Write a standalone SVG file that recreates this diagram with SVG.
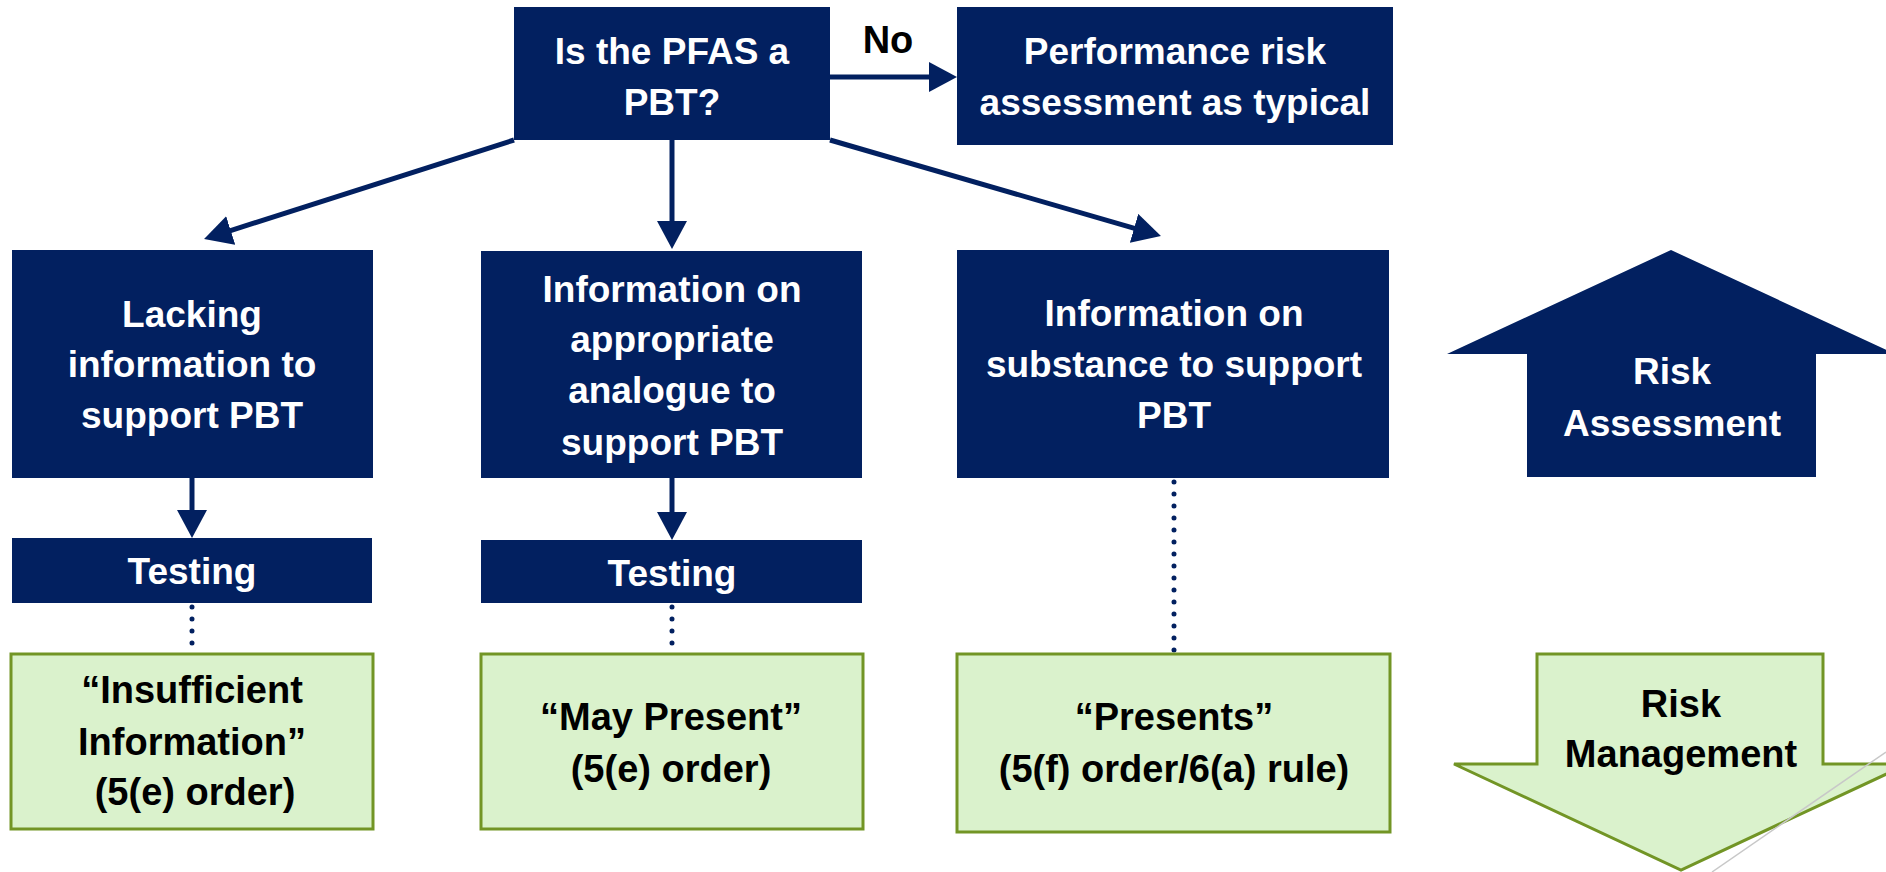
<svg xmlns="http://www.w3.org/2000/svg" width="1886" height="872" viewBox="0 0 1886 872">
  <defs>
    <style>
      .navy { fill: #022060; }
      .green { fill: #DAF2CC; stroke: #729525; stroke-width: 3; }
      .wt { font-family: "Liberation Sans", Arial, sans-serif; font-weight: bold; font-size: 37px; fill: #FFFFFF; text-anchor: middle; }
      .bt { font-family: "Liberation Sans", Arial, sans-serif; font-weight: bold; font-size: 38px; fill: #000000; text-anchor: middle; }
      .conn { stroke: #022060; stroke-width: 5; fill: none; }
      .dots { stroke: #022060; stroke-width: 5; fill: none; stroke-linecap: round; stroke-dasharray: 0 12; }
    </style>
    <marker id="head" markerUnits="userSpaceOnUse" markerWidth="30" markerHeight="32" refX="14" refY="15" orient="auto">
      <path d="M0,0 L28,15 L0,30 Z" fill="#022060"/>
    </marker>
  </defs>

  <rect width="1886" height="872" fill="#FFFFFF"/>

  <!-- connectors -->
  <g id="connectors">
    <line class="conn" x1="830" y1="77" x2="943" y2="77" marker-end="url(#head)"/>
    <line class="conn" x1="514" y1="140" x2="217.4" y2="234.8" marker-end="url(#head)"/>
    <line class="conn" x1="672" y1="140" x2="672" y2="235" marker-end="url(#head)"/>
    <line class="conn" x1="830" y1="140" x2="1147.5" y2="232.2" marker-end="url(#head)"/>
    <line class="conn" x1="192" y1="478" x2="192" y2="524" marker-end="url(#head)"/>
    <line class="conn" x1="672" y1="478" x2="672" y2="526" marker-end="url(#head)"/>
    <line class="dots" x1="192" y1="607" x2="192" y2="652"/>
    <line class="dots" x1="672" y1="607" x2="672" y2="652"/>
    <line class="dots" x1="1174" y1="482" x2="1174" y2="652"/>
    <text class="bt" x="888" y="53" font-size="34">No</text>
  </g>

  <!-- decision -->
  <g id="question">
    <rect class="navy" x="514" y="7" width="316" height="133"/>
    <text class="wt" x="672" y="64">Is the PFAS a</text>
    <text class="wt" x="672" y="115">PBT?</text>
  </g>

  <g id="typical">
    <rect class="navy" x="957" y="7" width="436" height="138"/>
    <text class="wt" x="1175" y="64">Performance risk</text>
    <text class="wt" x="1175" y="115">assessment as typical</text>
  </g>

  <!-- information branches -->
  <g id="lacking">
    <rect class="navy" x="12" y="250" width="361" height="228"/>
    <text class="wt" x="192" y="327">Lacking</text>
    <text class="wt" x="192" y="377">information to</text>
    <text class="wt" x="192" y="428">support PBT</text>
  </g>

  <g id="analogue">
    <rect class="navy" x="481" y="251" width="381" height="227"/>
    <text class="wt" x="672" y="302">Information on</text>
    <text class="wt" x="672" y="352">appropriate</text>
    <text class="wt" x="672" y="403">analogue to</text>
    <text class="wt" x="672" y="455">support PBT</text>
  </g>

  <g id="substance">
    <rect class="navy" x="957" y="250" width="432" height="228"/>
    <text class="wt" x="1174" y="326">Information on</text>
    <text class="wt" x="1174" y="377">substance to support</text>
    <text class="wt" x="1174" y="428">PBT</text>
  </g>

  <!-- testing steps -->
  <g id="testing-1">
    <rect class="navy" x="12" y="538" width="360" height="65"/>
    <text class="wt" x="192" y="584">Testing</text>
  </g>

  <g id="testing-2">
    <rect class="navy" x="481" y="540" width="381" height="63"/>
    <text class="wt" x="672" y="586">Testing</text>
  </g>

  <!-- determinations -->
  <g id="insufficient">
    <rect class="green" x="11" y="654" width="362" height="175"/>
    <text class="bt" x="192" y="703">“Insufficient</text>
    <text class="bt" x="192" y="755">Information”</text>
    <text class="bt" x="195" y="805">(5(e) order)</text>
  </g>

  <g id="may-present">
    <rect class="green" x="481" y="654" width="382" height="175"/>
    <text class="bt" x="671" y="730">“May Present”</text>
    <text class="bt" x="671" y="782">(5(e) order)</text>
  </g>

  <g id="presents">
    <rect class="green" x="957" y="654" width="433" height="178"/>
    <text class="bt" x="1174" y="730">“Presents”</text>
    <text class="bt" x="1174" y="782">(5(f) order/6(a) rule)</text>
  </g>

  <!-- side arrows -->
  <g id="risk-assessment">
    <polygon class="navy" points="1671,250 1895,354 1816,354 1816,477 1527,477 1527,354 1447,354"/>
    <text class="wt" x="1672" y="384">Risk</text>
    <text class="wt" x="1672" y="436">Assessment</text>
  </g>

  <g id="risk-management">
    <polygon class="green" points="1537,654 1823,654 1823,764 1908,764 1681,870 1454,764 1537,764"/>
    <text class="bt" x="1681" y="717">Risk</text>
    <text class="bt" x="1681" y="767">Management</text>
  </g>

  <line x1="1886" y1="752" x2="1712" y2="872" stroke="#C8C8C8" stroke-width="1.5"/>
</svg>
